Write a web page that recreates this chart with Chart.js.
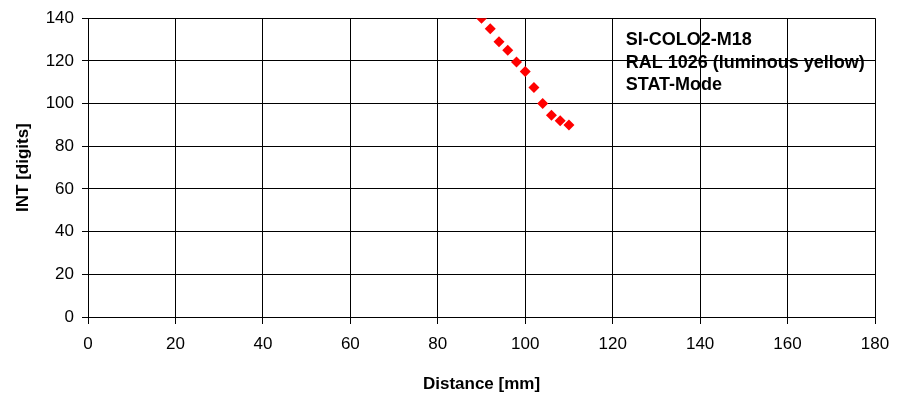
<!DOCTYPE html>
<html>
<head>
<meta charset="utf-8">
<script src="https://cdn.jsdelivr.net/npm/chart.js@4"></script>
<style>
  html, body { margin: 0; padding: 0; background: #fff; }
  #wrap { width: 905px; height: 398px; }
</style>
</head>
<body>
<div id="wrap"><canvas id="chart"></canvas></div>
<script>
// measured points: distance [mm] vs intensity [digits]
const distance = [90, 92, 94, 96, 98, 100, 102, 104, 106, 108, 110];
const intensity = [140, 135, 129, 125, 119.5, 115, 107.5, 100, 94.5, 92, 90];
const noteLines = ['SI-COLO2-M18', 'RAL 1026 (luminous yellow)', 'STAT-Mode'];

const FONT = "'Liberation Sans', Arial, sans-serif";

// draws the sensor note in the upper right of the plot
const notePlugin = {
    id: 'note',
    afterDraw(chart) {
        const ctx = chart.ctx;
        const x = chart.scales.x.getPixelForValue(123);
        ctx.save();
        ctx.font = 'bold 18px ' + FONT;
        ctx.fillStyle = '#000';
        ctx.textBaseline = 'middle';
        noteLines.forEach((line, i) => {
            ctx.fillText(line, x, 40 + i * 22.7);
        });
        ctx.restore();
    }
};

new Chart(document.getElementById('chart'), {
    type: 'scatter',
    data: {
        datasets: [{
            data: distance.map((d, i) => ({ x: d, y: intensity[i] })),
            pointStyle: 'rectRot',
            pointRadius: 5.5,
            pointBackgroundColor: '#ff0000',
            pointBorderWidth: 0
        }]
    },
    options: {
        responsive: true,
        maintainAspectRatio: false,
        animation: false,
        layout: { padding: { top: 16, right: 30, left: 0, bottom: 0 } },
        plugins: { legend: { display: false }, tooltip: { enabled: false } },
        scales: {
            x: {
                type: 'linear',
                min: 0,
                max: 180,
                ticks: { stepSize: 20, color: '#000', font: { family: FONT, size: 17 }, padding: 10 },
                grid: { color: '#000', lineWidth: 1, tickLength: 7 },
                border: { color: '#000' },
                title: { display: true, text: 'Distance [mm]', color: '#000', font: { family: FONT, size: 17, weight: 'bold' }, padding: { top: 4, bottom: 3 } },
                afterFit: s => { s.height = 81; }
            },
            y: {
                min: 0,
                max: 140,
                ticks: { stepSize: 20, color: '#000', font: { family: FONT, size: 17 }, padding: 8 },
                grid: { color: '#000', lineWidth: 1, tickLength: 6 },
                border: { color: '#000' },
                title: { display: true, text: 'INT [digits]', color: '#000', font: { family: FONT, size: 17, weight: 'bold' }, padding: { top: 13, bottom: 4 } },
                afterFit: s => { s.width = 88; }
            }
        }
    },
    plugins: [notePlugin]
});
</script>
</body>
</html>
